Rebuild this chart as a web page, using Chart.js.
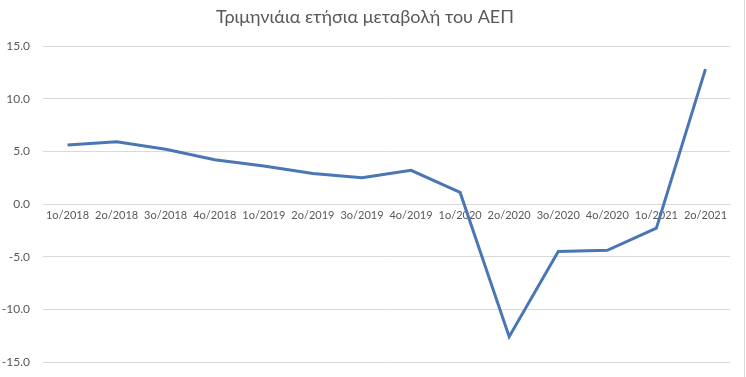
<!DOCTYPE html>
<html>
<head>
<meta charset="utf-8">
<script src="https://cdn.jsdelivr.net/npm/chart.js@4"></script>
<style>
html,body{margin:0;padding:0;background:#fff;}
#wrap{width:746px;height:377px;position:relative;}
#edge{position:absolute;left:744px;top:0;width:1px;height:377px;background:#d9d9d9;}
</style>
</head>
<body>
<div id="wrap"><canvas id="c" width="746" height="377"></canvas><div id="edge"></div></div>
<script>
const chartTitle = "Τριμηνιάια ετήσια μεταβολή του ΑΕΠ";
const categories = ["1o/2018","2o/2018","3o/2018","4o/2018","1o/2019","2o/2019","3o/2019","4o/2019","1o/2020","2o/2020","3o/2020","4o/2020","1o/2021","2o/2021"];
const gdpChange = [5.6, 5.9, 5.2, 4.2, 3.6, 2.9, 2.5, 3.2, 1.1, -12.6, -4.5, -4.4, -2.3, 12.8];
const yMin = -15, yMax = 15, yStep = 5;

const textColor = "#595959";
const gridColor = "#d9d9d9";

new Chart(document.getElementById("c"), {
  type: "line",
  data: {
    labels: categories,
    datasets: [{
      data: gdpChange,
      borderColor: "#4a76b5",
      borderWidth: 3,
      pointRadius: 0,
      tension: 0,
      fill: false
    }]
  },
  options: {
    responsive: false,
    animation: false,
    layout: { padding: { top: 3, right: 16, bottom: 15, left: 0 } },
    plugins: {
      legend: { display: false },
      tooltip: { enabled: false },
      title: {
        display: true,
        text: chartTitle,
        color: textColor,
        font: { family: "Lato", size: 18, weight: 400 },
        padding: { top: 3, bottom: 18.4 }
      }
    },
    scales: {
      x: {
        type: "category",
        position: { y: 0 },
        offset: true,
        afterFit: (s) => { s.height = 0; },
        grid: { display: false, drawTicks: false },
        border: { display: true, color: gridColor, width: 1 },
        ticks: { color: textColor, font: { family: "Lato", size: 11 }, padding: 5, maxRotation: 0, autoSkip: false }
      },
      y: {
        min: yMin,
        max: yMax,
        afterFit: (s) => { s.width = 43; s.paddingTop = 0; s.paddingBottom = 0; },
        grid: { color: gridColor, drawTicks: false },
        border: { display: false },
        ticks: {
          stepSize: yStep,
          color: textColor,
          font: { family: "Lato", size: 12 },
          padding: 13,
          callback: (v) => Number(v).toFixed(1)
        }
      }
    }
  }
});
</script>
</body>
</html>
